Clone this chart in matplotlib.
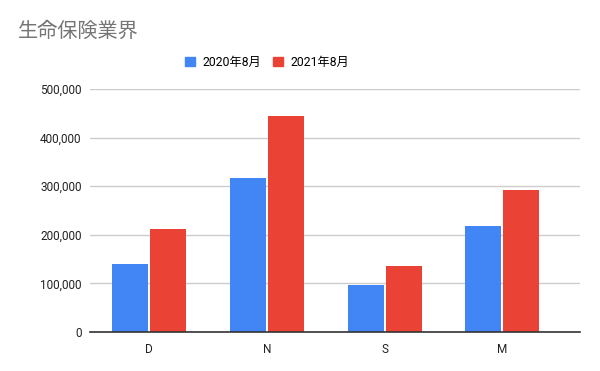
import matplotlib
matplotlib.use('Agg')
import matplotlib.pyplot as plt
import numpy as np
from matplotlib.patches import Patch

plt.rcParams['font.family'] = ['Roboto', 'Noto Sans CJK JP', 'DejaVu Sans']

categories = ['D', 'N', 'S', 'M']
series_names = ['2020年8月', '2021年8月']
values_2020 = [140000, 316000, 97000, 218000]
values_2021 = [211000, 444000, 136000, 292000]
colors = ['#4285F4', '#EA4335']
yticks = [0, 100000, 200000, 300000, 400000, 500000]

fig = plt.figure(figsize=(6, 3.71), dpi=100)
ax = fig.add_axes([0.15, 0.105, 0.817, 0.655])

x = np.arange(len(categories))
w = 0.305
gap = 0.009
ax.bar(x - w / 2 - gap, values_2020, w, color=colors[0], zorder=3)
ax.bar(x + w / 2 + gap, values_2021, w, color=colors[1], zorder=3)

ax.set_xlim(-0.5, 3.66)
ax.set_ylim(0, 500000)
ax.set_yticks(yticks)
ax.set_yticklabels([f'{v:,}' for v in yticks])
ax.set_xticks(x)
ax.set_xticklabels(categories)
ax.grid(axis='y', color='#cccccc', linewidth=1, zorder=0)
for s in ['top', 'right', 'left']:
    ax.spines[s].set_visible(False)
ax.spines['bottom'].set_color('#333333')
ax.spines['bottom'].set_linewidth(1.2)
ax.spines['bottom'].set_zorder(4)
ax.tick_params(axis='both', length=0, labelsize=8.5, colors='#222222')
ax.tick_params(axis='y', pad=6)
ax.tick_params(axis='x', pad=8)

fig.text(0.03, 0.915, '生命保険業界', fontsize=14.5, color='#757575',
         family=['Noto Sans CJK JP'], va='center')

handles = [Patch(color=c) for c in colors]
fig.legend(handles, series_names, loc='center', bbox_to_anchor=(0.445, 0.833),
           ncol=2, frameon=False, handlelength=0.8, handleheight=0.8,
           columnspacing=1.0, handletextpad=0.6,
           prop={'family': ['Roboto', 'Noto Sans CJK JP'], 'size': 8.8})

fig.savefig('out.png', dpi=100)
